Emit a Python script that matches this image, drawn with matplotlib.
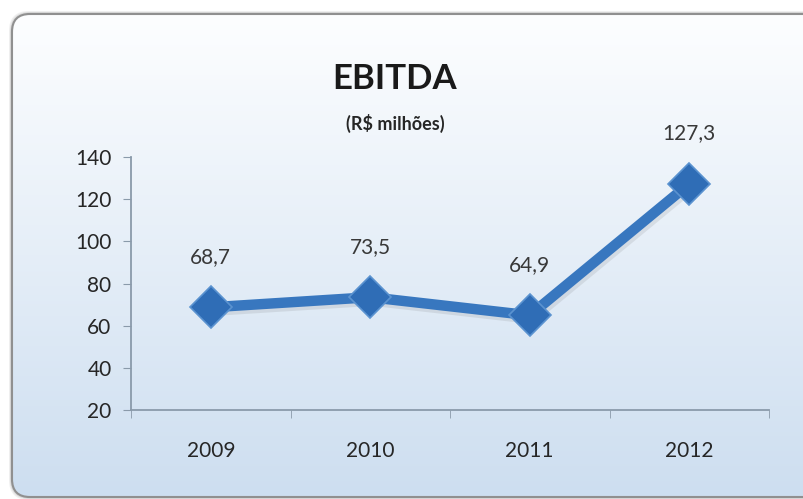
import numpy as np
import matplotlib
matplotlib.use("Agg")
import matplotlib.pyplot as plt
from matplotlib.patches import FancyBboxPatch
import matplotlib.patheffects as pe

years = ["2009", "2010", "2011", "2012"]
ebitda = [68.7, 73.5, 64.9, 127.3]
labels = ["68,7", "73,5", "64,9", "127,3"]
yticks = [20, 40, 60, 80, 100, 120, 140]
title = "EBITDA"
subtitle = "(R$ milhões)"

plt.rcParams['font.family'] = ['Lato', 'DejaVu Sans']

W, H = 804, 499
fig = plt.figure(figsize=(W / 100, H / 100), dpi=100)
fig.patch.set_facecolor("white")

# background box with gradient
bg = fig.add_axes([0, 0, 1, 1])
bg.set_xlim(0, W)
bg.set_ylim(H, 0)
bg.axis("off")
bx0, by0, bx1, by1 = 12, 14, 830, 497
for off, a in [(3, 0.15), (2, 0.25), (1, 0.35)]:
    sh = FancyBboxPatch((bx0 - off, by0 - off), bx1 - bx0 + 2 * off, by1 - by0 + 2 * off,
                        boxstyle="round,pad=0,rounding_size=20",
                        fc="#9a9a9a", ec="none", alpha=a)
    bg.add_patch(sh)
box = FancyBboxPatch((bx0, by0), bx1 - bx0, by1 - by0,
                     boxstyle="round,pad=0,rounding_size=18",
                     fc="none", ec="#909090", lw=1.5)
grad = np.linspace(0, 1, 256).reshape(-1, 1)
top = np.array([0xFD, 0xFE, 0xFF]) / 255
bot = np.array([0xCD, 0xDE, 0xF0]) / 255
img = top + (bot - top) * grad[..., None]
im = bg.imshow(img, extent=(bx0, bx1, by1, by0), aspect="auto", zorder=1)
bg.add_patch(box)
box.set_zorder(2)
clip = FancyBboxPatch((bx0, by0), bx1 - bx0, by1 - by0,
                      boxstyle="round,pad=0,rounding_size=18",
                      fc="none", ec="none", transform=bg.transData)
bg.add_patch(clip)
im.set_clip_path(clip)

# main axes
ax = fig.add_axes([131 / W, 1 - 410 / H, (769 - 131) / W, (410 - 157) / H])
ax.set_facecolor("none")
x = np.arange(len(years))
ax.plot(x, ebitda, color="#3877bf", lw=7.5, solid_capstyle="butt",
        zorder=3,
        path_effects=[pe.SimpleLineShadow(offset=(1.5, -2.5), alpha=0.12, shadow_color="#555555"),
                      pe.Normal()])
ax.plot(x, ebitda, linestyle="none",
        marker="D", markersize=21, markerfacecolor="#2f6db6",
        markeredgecolor="#5b93d0", markeredgewidth=1.2, zorder=4)
for xi, v, lab in zip(x, ebitda, labels):
    ax.annotate(lab, (xi, v), xytext=(0, 29), textcoords="offset points",
                ha="center", va="bottom", fontsize=15, color="#383838")

ax.set_xlim(-0.5, len(years) - 0.5)
ax.set_ylim(20, 140)
ax.set_yticks(yticks)
ax.set_yticklabels([str(t) for t in yticks], fontsize=15, color="#262626")
ax.set_xticks(x)
ax.set_xticklabels(years, fontsize=15, color="#262626")
ax.set_xticks(np.arange(-0.5, len(years)), minor=True)
ax.tick_params(axis="x", which="major", length=0, pad=22)
ax.tick_params(axis="x", which="minor", length=6, color="#8a9aaa", direction="out")
ax.tick_params(axis="y", length=6, color="#8a9aaa", direction="out", pad=8)
for s in ["top", "right"]:
    ax.spines[s].set_visible(False)
for s in ["left", "bottom"]:
    ax.spines[s].set_color("#8a9aaa")
    ax.spines[s].set_linewidth(1.3)

fig.text(395 / W, 1 - 79 / H, title, ha="center", va="center",
         fontsize=25, fontweight="bold", color="#1a1a1a")
fig.text(395 / W, 1 - 123 / H, subtitle, ha="center", va="center",
         fontsize=13, fontweight="bold", color="#262626")

fig.savefig("out.png", dpi=100)
